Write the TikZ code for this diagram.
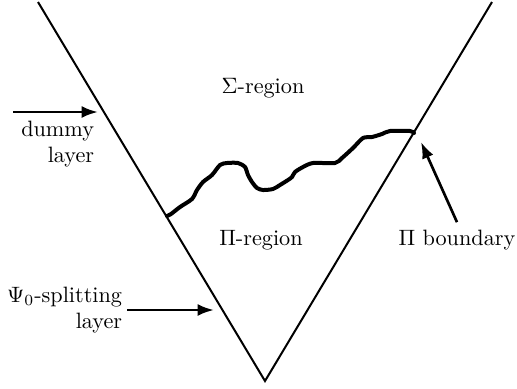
\documentclass[tikz,border=0pt]{standalone}
\usepackage{amsmath}
\usetikzlibrary{arrows.meta, positioning}

\begin{document}
\begin{tikzpicture}[
        x=0.45pt, y=-0.45pt,
        wall/.style={line width=0.9pt, line join=miter},
        front/.style={line width=1.8pt, line join=round, line cap=round},
        arr/.style={-{Latex[length=2.6mm, width=1.9mm]}, line width=1.2pt},
        lbl/.style={align=right, inner sep=2pt}
      ]
        \useasboundingbox (0,0) rectangle (517,388);
        % the V
        \coordinate (lefttop) at (38,2);
        \coordinate (apex) at (265,381);
        \coordinate (righttop) at (492,2);
        \draw[wall] (lefttop) -- (apex) -- (righttop);
        % interface between the two regions
        \draw[front] plot[smooth, tension=0.45] coordinates {
          (167,216) (171,214) (180,207) (192,199) (197,190) (203,182)
          (212,175) (220,165) (227,163) (238,163) (245,167) (248,175)
          (252,182) (257,188) (263,190) (273,189) (280,185) (288,180)
          (292,177) (295,172) (303,167) (313,163) (335,163) (342,158)
          (353,148) (363,138) (372,137) (382,134) (390,131) (410,131)
          (414,133)};
        \node (sigma) at (263,88) {$\Sigma$-region};
        \node (pi) at (261,240) {$\Pi$-region};
        % labels with arrows
        \coordinate (dummystart) at (13,112);
        \coordinate (dummyend) at (98,112);
        \draw[arr] (dummystart) -- (dummyend);
        \node[lbl, anchor=north east] (dummy) at (99,116) {dummy\\layer};
        \node[lbl, anchor=east] (split) at (127,310)
          {$\Psi_0$-splitting\\layer};
        \coordinate (splitend) at (214,310);
        \draw[arr] (split.east) -- (splitend);
        \node (pib) at (457,240) {$\Pi$ boundary};
        \coordinate (pibend) at (421,142);
        \draw[arr] (pib.north) -- (pibend);
      \end{tikzpicture}
\end{document}
